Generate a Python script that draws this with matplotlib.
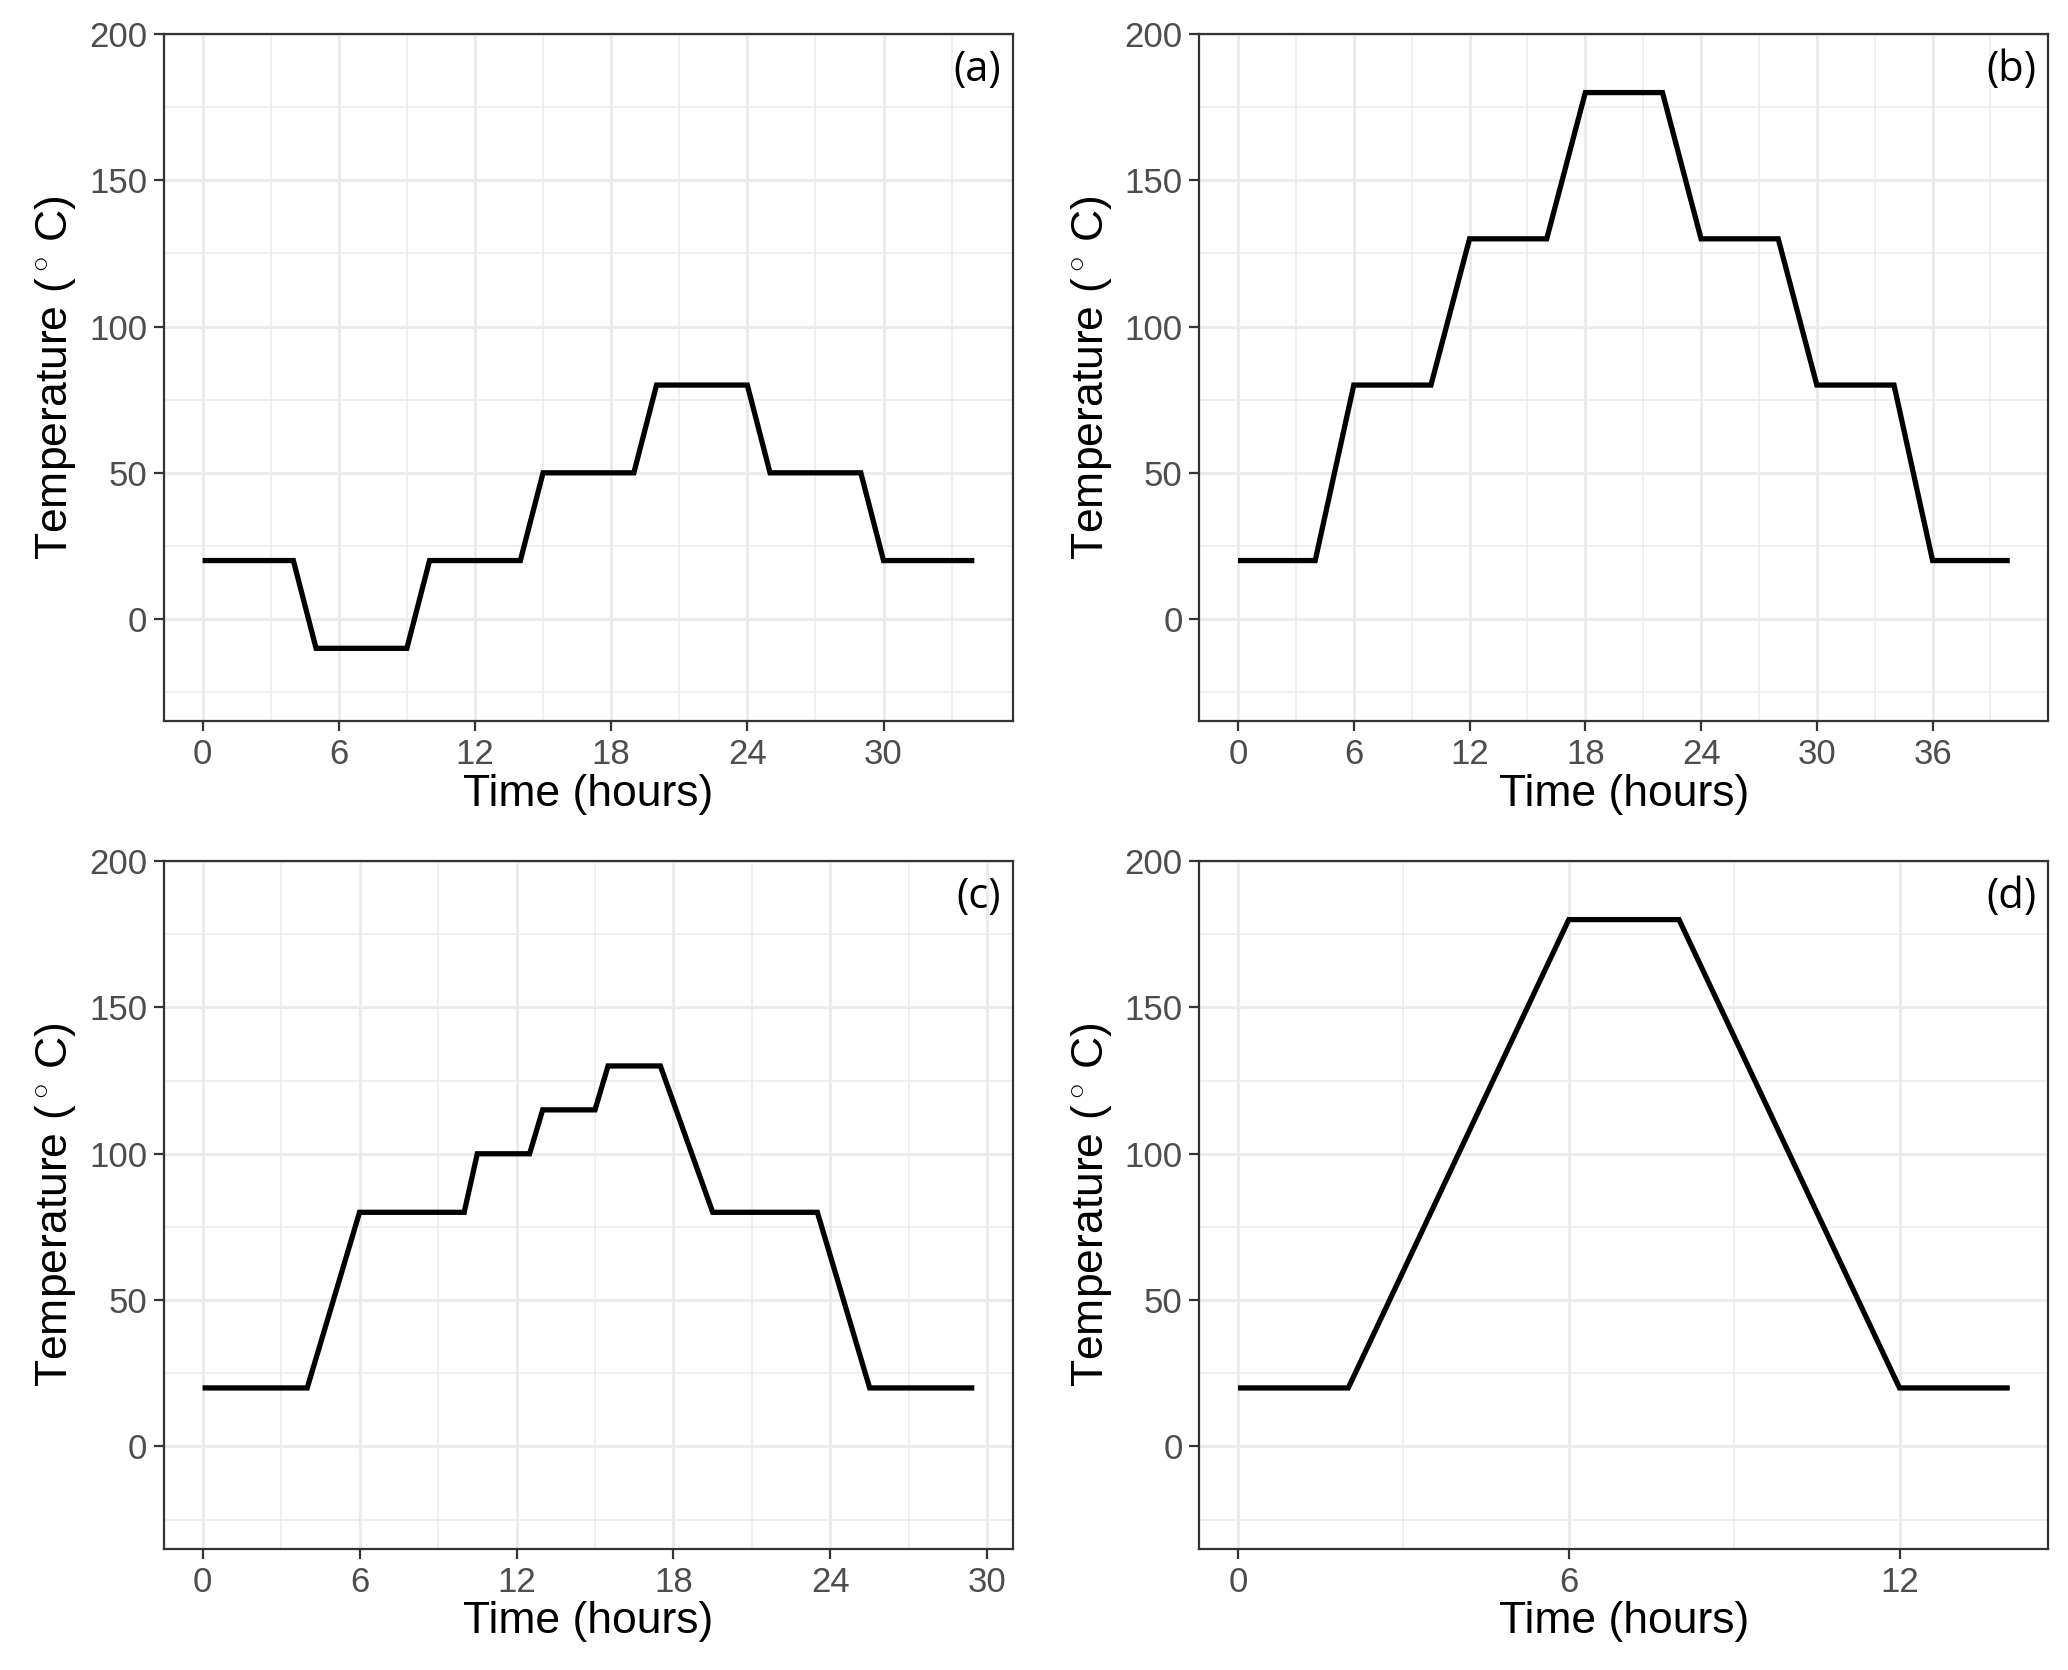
import matplotlib
matplotlib.use('Agg')
import matplotlib.pyplot as plt
from matplotlib.ticker import MultipleLocator

# temperature programmes, (time in hours, temperature in deg C)
time_a = [0, 4, 5, 9, 10, 14, 15, 19, 20, 24, 25, 29, 30, 34]
temp_a = [20, 20, -10, -10, 20, 20, 50, 50, 80, 80, 50, 50, 20, 20]

time_b = [0, 4, 6, 10, 12, 16, 18, 22, 24, 28, 30, 34, 36, 40]
temp_b = [20, 20, 80, 80, 130, 130, 180, 180, 130, 130, 80, 80, 20, 20]

time_c = [0, 4, 6, 10, 10.5, 12.5, 13, 15, 15.5, 17.5, 19.5, 23.5, 25.5, 29.5]
temp_c = [20, 20, 80, 80, 100, 100, 115, 115, 130, 130, 80, 80, 20, 20]

time_d = [0, 2, 6, 8, 12, 14]
temp_d = [20, 20, 180, 180, 20, 20]

x_ticks_a = [0, 6, 12, 18, 24, 30]
x_ticks_b = [0, 6, 12, 18, 24, 30, 36]
x_ticks_c = [0, 6, 12, 18, 24, 30]
x_ticks_d = [0, 6, 12]

panel_labels = ['(a)', '(b)', '(c)', '(d)']
y_ticks = [0, 50, 100, 150, 200]


def main():
    plt.rcParams['font.family'] = ['Liberation Sans', 'DejaVu Sans']
    plt.rcParams['mathtext.fontset'] = 'custom'
    plt.rcParams['mathtext.rm'] = 'Liberation Sans'

    fig = plt.figure(figsize = (10.34, 8.35), dpi = 200)

    # [left, bottom, width, height] for each panel
    boxes = [
        [0.0793, 0.568, 0.4105, 0.4116],
        [0.5800, 0.568, 0.4105, 0.4116],
        [0.0793, 0.0725, 0.4105, 0.4119],
        [0.5800, 0.0725, 0.4105, 0.4119],
    ]
    series = [
        (time_a, temp_a, x_ticks_a),
        (time_b, temp_b, x_ticks_b),
        (time_c, temp_c, x_ticks_c),
        (time_d, temp_d, x_ticks_d),
    ]

    for box, (t, y, xt), lab in zip(boxes, series, panel_labels):
        ax = fig.add_axes(box)
        ax.plot(t, y, color = 'black', lw = 1.9, solid_joinstyle = 'miter',
                solid_capstyle = 'butt', zorder = 3)

        span = max(t) - min(t)
        ax.set_xlim(min(t) - 0.05 * span, max(t) + 0.05 * span)
        ax.set_ylim(-35, 200)

        ax.set_xticks(xt)
        ax.xaxis.set_minor_locator(MultipleLocator(3))
        ax.set_yticks(y_ticks)
        ax.yaxis.set_minor_locator(MultipleLocator(25))

        ax.grid(which = 'major', color = '#EBEBEB', lw = 1.1)
        ax.grid(which = 'minor', color = '#EBEBEB', lw = 0.55)
        ax.set_axisbelow(True)

        for s in ax.spines.values():
            s.set_color('#333333')
            s.set_linewidth(0.8)

        ax.tick_params(which = 'major', direction = 'out', length = 3.5,
                       width = 0.8, color = '#333333', labelcolor = '#4D4D4D',
                       labelsize = 12.5, pad = 2.5)
        ax.tick_params(which = 'minor', length = 0)

        ax.set_xlabel('Time (hours)', fontsize = 16, labelpad = 1)
        ax.set_ylabel(r'Temperature ($^\circ\,$C)', fontsize = 16, labelpad = 4)

        ax.text(0.986, 0.978, lab, transform = ax.transAxes, ha = 'right',
                va = 'top', fontsize = 15, family = ['Open Sans', 'DejaVu Sans'])

    fig.savefig('out.png', dpi = 200)


if __name__ == "__main__":
    main()
